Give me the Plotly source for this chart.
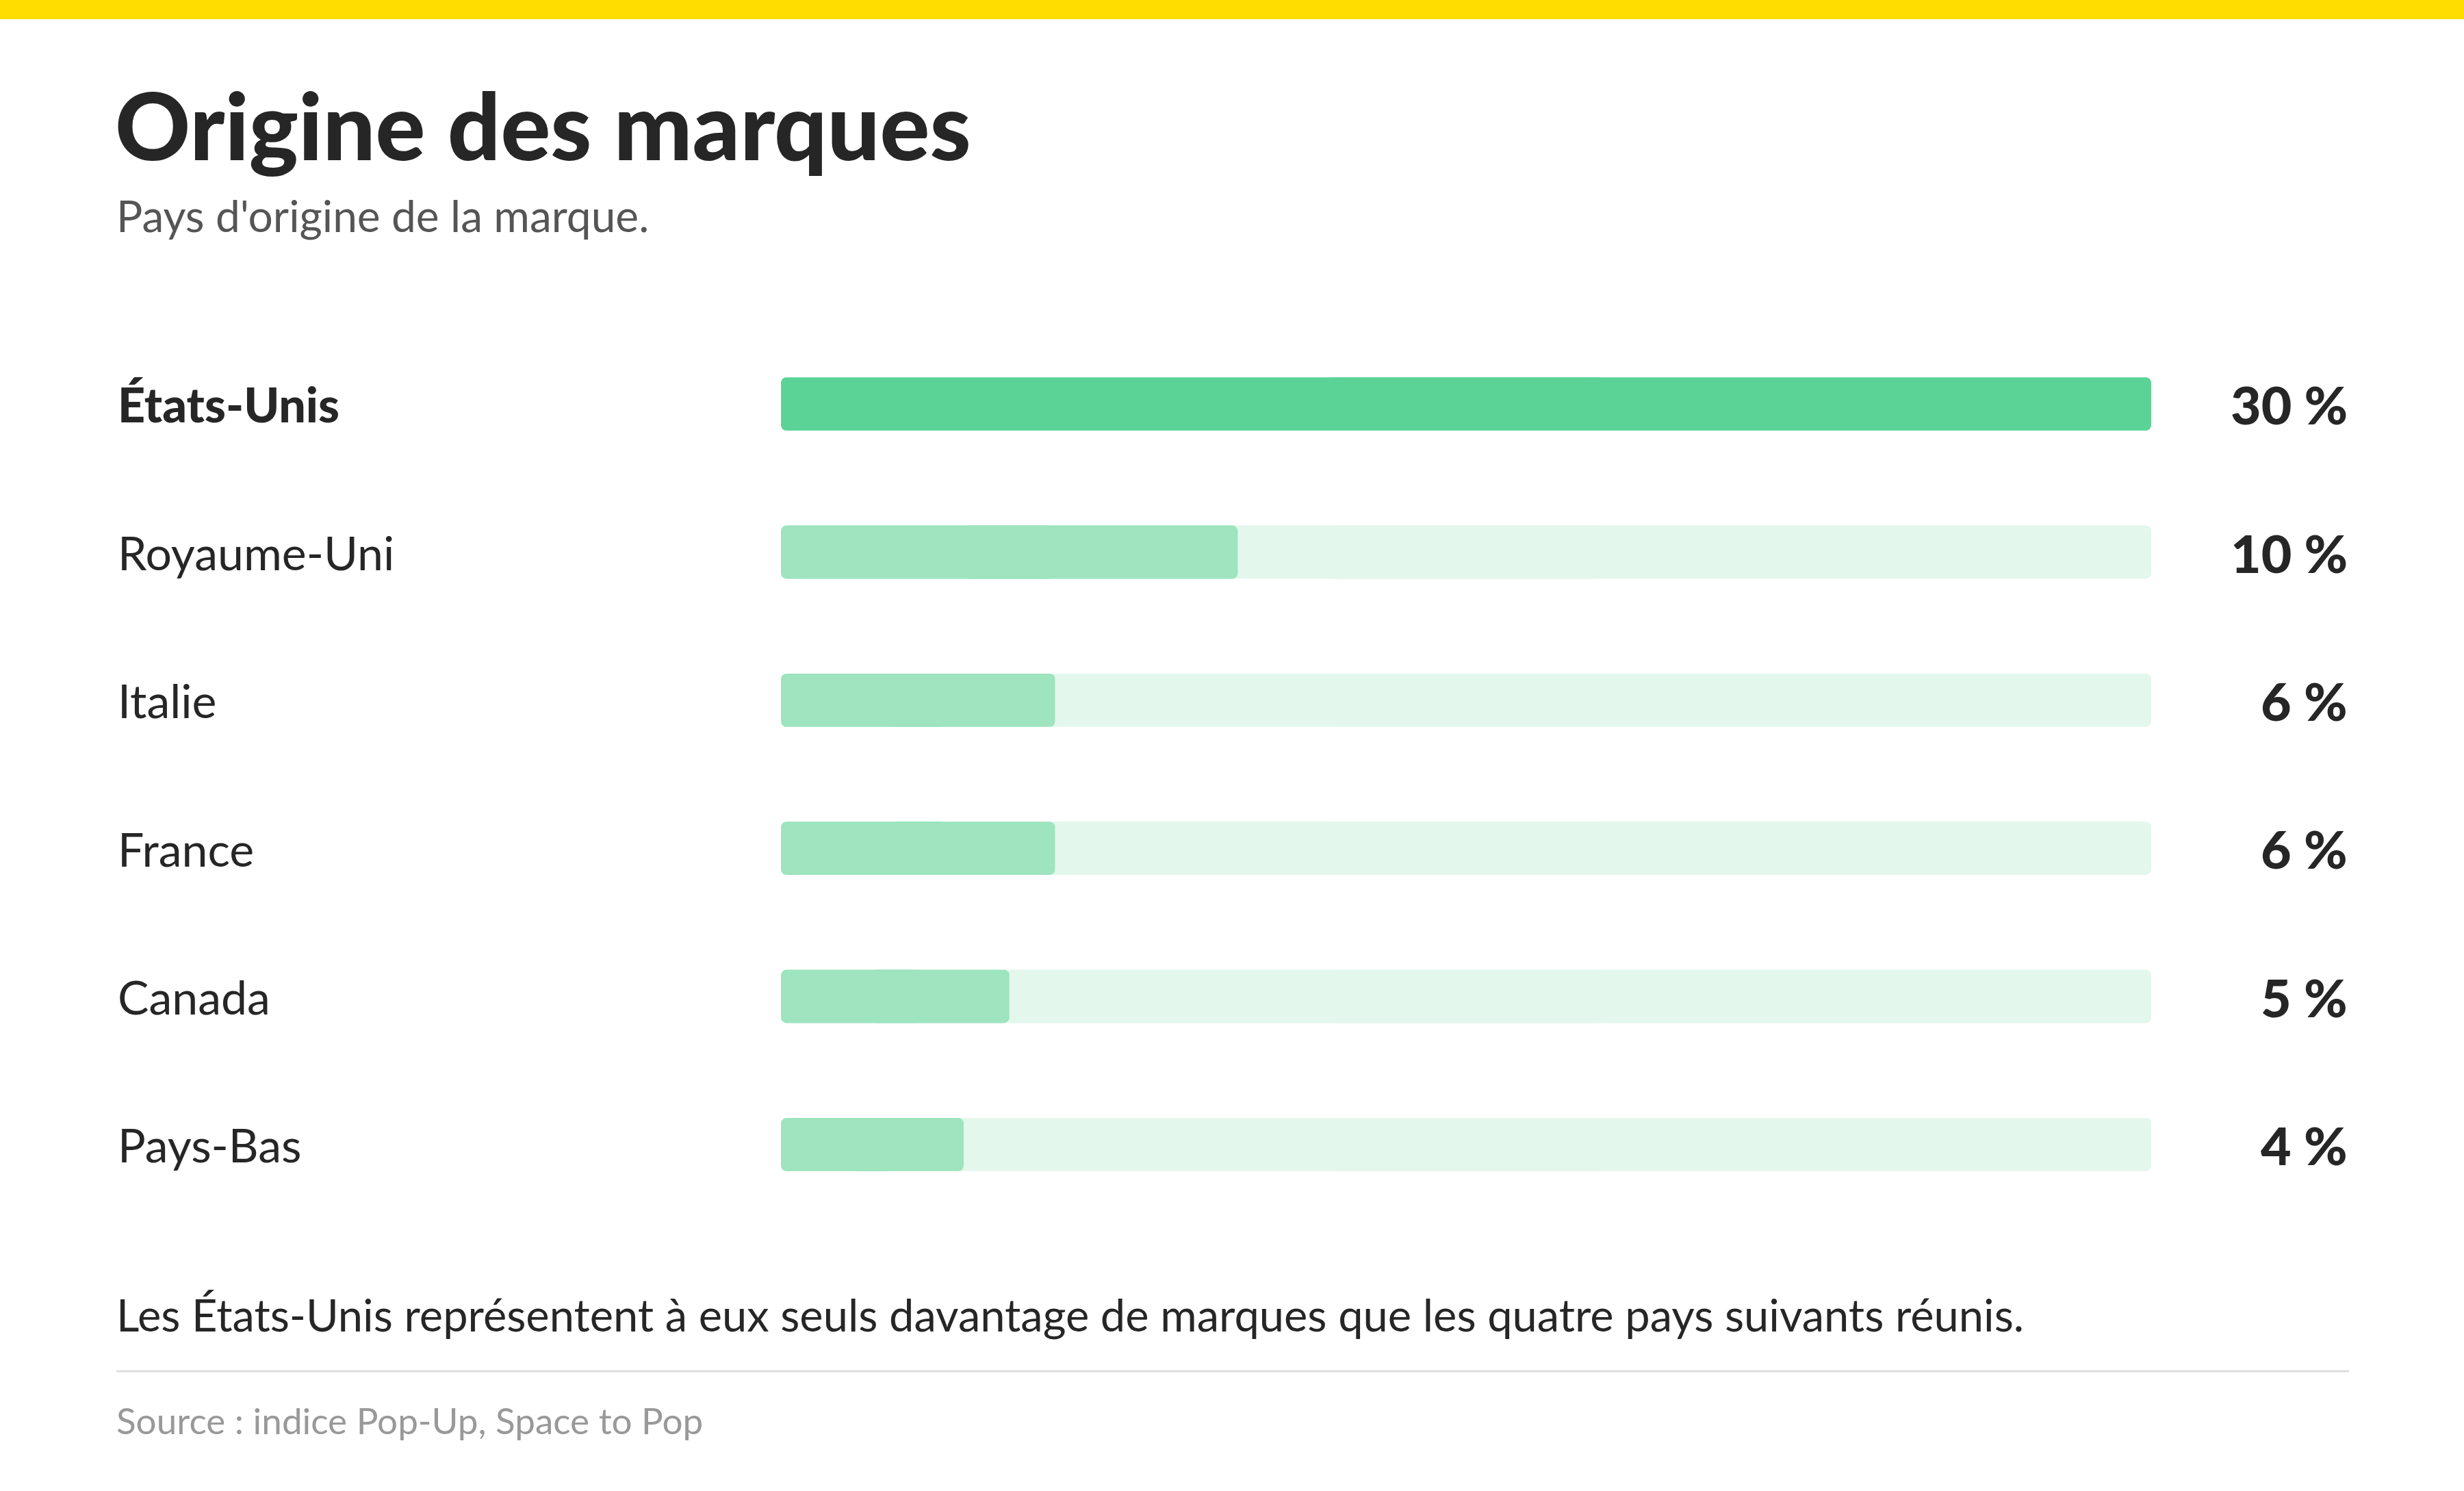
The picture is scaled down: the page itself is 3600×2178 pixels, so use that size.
import plotly.graph_objects as go

# ---- data ----
countries = ["États-Unis", "Royaume-Uni", "Italie", "France", "Canada", "Pays-Bas"]
shares = [30, 10, 6, 6, 5, 4]
value_labels = ["30 %", "10 %", "6 %", "6 %", "5 %", "4 %"]
axis_max = 30

title = "Origine des marques"
subtitle = "Pays d'origine de la marque."
note = "Les États-Unis représentent à eux seuls davantage de marques que les quatre pays suivants réunis."
source = "Source : indice Pop-Up, Space to Pop"

# ---- layout geometry (pixels) ----
W_FIG, H_FIG = 3600, 2178
L, R = 1141, 3143
T, B = 482, 1780
PW, PH = R - L, B - T

def xp(px):
    return (px - L) / PW

def yp(py):
    return (B - py) / PH

FONT = "Lato"
DARK = "#262626"
STRONG = "#5cd396"
LIGHT = "#9de4bf"
TRACK = "#e3f7ec"
BAR_W = 0.36

fig = go.Figure()

def rounded_bar(values, color):
    # two overlapping pieces so that both ends of each bar are rounded
    fig.add_trace(go.Bar(
        y=countries, x=[0.6 * v for v in values], base=[0.4 * v for v in values],
        orientation="h", width=BAR_W, marker=dict(color=color, line=dict(width=0)),
        hoverinfo="skip", showlegend=False))
    fig.add_trace(go.Bar(
        y=countries, x=[-0.6 * v for v in values], base=[0.6 * v for v in values],
        orientation="h", width=BAR_W, marker=dict(color=color, line=dict(width=0)),
        hoverinfo="skip", showlegend=False))

rounded_bar([axis_max] * len(countries), TRACK)
rounded_bar(shares, [STRONG if i == 0 else LIGHT for i in range(len(countries))])

annotations = []
for i, (c, lab) in enumerate(zip(countries, value_labels)):
    annotations.append(dict(
        x=xp(170), xref="paper", y=c, yref="y", xanchor="left", yanchor="middle",
        text=c, showarrow=False,
        font=dict(family=FONT, size=68 if i else 70, color=DARK, weight=900 if i == 0 else 400)))
    annotations.append(dict(
        x=xp(3432), xref="paper", y=c, yref="y", xanchor="right", yanchor="middle",
        text=lab, showarrow=False,
        font=dict(family=FONT, size=77, color=DARK, weight=900)))

annotations += [
    dict(x=xp(166), y=yp(182), xref="paper", yref="paper", xanchor="left", yanchor="middle",
         text=title, showarrow=False, font=dict(family=FONT, size=136, color=DARK, weight=900)),
    dict(x=xp(168), y=yp(314), xref="paper", yref="paper", xanchor="left", yanchor="middle",
         text=subtitle, showarrow=False, font=dict(family=FONT, size=64, color="#555555")),
    dict(x=xp(168), y=yp(1920), xref="paper", yref="paper", xanchor="left", yanchor="middle",
         text=note, showarrow=False, font=dict(family=FONT, size=65, color=DARK)),
    dict(x=xp(168), y=yp(2074), xref="paper", yref="paper", xanchor="left", yanchor="middle",
         text=source, showarrow=False, font=dict(family=FONT, size=53, color="#999999")),
]

shapes = [
    dict(type="rect", xref="paper", yref="paper", x0=xp(0), x1=xp(W_FIG), y0=yp(28), y1=yp(0),
         fillcolor="#ffdd00", line=dict(width=0), layer="above"),
    dict(type="line", xref="paper", yref="paper", x0=xp(170), x1=xp(3432), y0=yp(2003), y1=yp(2003),
         line=dict(color="#dddddd", width=3)),
]

fig.update_layout(
    width=W_FIG, height=H_FIG,
    margin=dict(l=L, r=W_FIG - R, t=T, b=H_FIG - B, pad=0),
    paper_bgcolor="white", plot_bgcolor="white",
    barmode="overlay", barcornerradius=8,
    xaxis=dict(range=[0, axis_max], visible=False, fixedrange=True),
    yaxis=dict(categoryorder="array", categoryarray=countries, range=[len(countries) - 0.5, -0.5],
               visible=False, fixedrange=True),
    annotations=annotations, shapes=shapes,
    showlegend=False,
)

fig.write_html("out.html", config={"displayModeBar": False},
               post_script="document.body.style.margin='0';document.body.style.overflow='hidden';")
